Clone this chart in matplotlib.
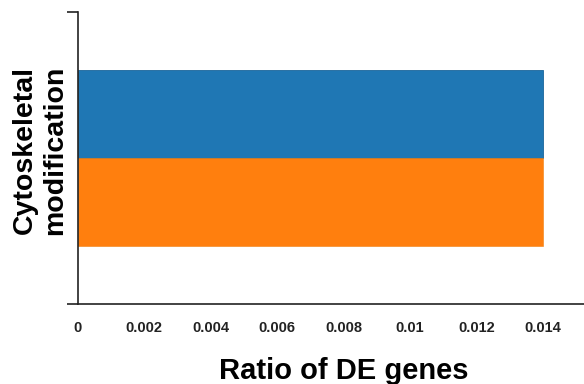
import matplotlib
matplotlib.use("Agg")
import matplotlib.pyplot as plt
import numpy as np

plt.rcParams['font.family'] = ['Liberation Sans', 'DejaVu Sans']

categories = ["Cytoskeletal\nmodification"]
series_a = [0.014]
series_b = [0.014]
xticks = [0, 0.002, 0.004, 0.006, 0.008, 0.01, 0.012, 0.014]
xtick_labels = ["0", "0.002", "0.004", "0.006", "0.008", "0.01", "0.012", "0.014"]

fig = plt.figure(figsize=(5.84, 3.84), dpi=100)
ax = fig.add_axes([78 / 584, 80 / 384, 531 / 584, 292 / 384])

y = np.arange(len(categories))
h = 0.3
ax.barh(y + h / 2, series_a, height=h, color="#1f77b4", edgecolor="#1a659a", linewidth=0.6)
ax.barh(y - h / 2, series_b, height=h, color="#ff7f0e", edgecolor="#f08010", linewidth=0.4)

ax.set_xlim(0, 0.016)
ax.set_ylim(-0.5, 0.5)

for s in ("top", "right"):
    ax.spines[s].set_visible(False)
for s in ("left", "bottom"):
    ax.spines[s].set_linewidth(1.2)
    ax.spines[s].set_color("#222222")

ax.set_xticks(xticks)
ax.set_xticklabels(xtick_labels, fontsize=10.5, fontweight="bold", color="#222222")
ax.tick_params(axis="x", which="major", length=0, pad=12)
ax.set_xticks([0], minor=True)
ax.tick_params(axis="x", which="minor", length=6, width=1.2, color="#222222")

# category name drawn as a rotated, centred two-line label left of the axis
ax.set_yticks(y)
ax.set_yticklabels([""] * len(categories))
ax.tick_params(axis="y", which="major", length=0)
for yi, name in zip(y, categories):
    ax.annotate(name, xy=(0, yi), xycoords=("axes fraction", "data"),
                xytext=(-38, 8), textcoords="offset pixels",
                rotation=90, fontsize=20.5, fontweight="bold",
                ha="center", va="center", multialignment="center",
                linespacing=1.25)
ax.set_yticks([-0.5, 0.5], minor=True)
ax.tick_params(axis="y", which="minor", length=8, width=1.2, color="#222222")

ax.set_xlabel("Ratio of DE genes", fontsize=21, fontweight="bold", labelpad=16)

fig.savefig("out.png", dpi=100)
